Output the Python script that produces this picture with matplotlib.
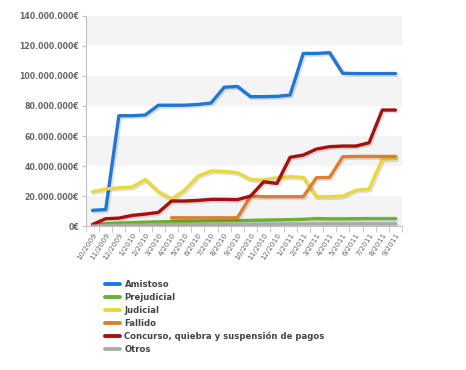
import numpy as np
import matplotlib
matplotlib.use("Agg")
import matplotlib.pyplot as plt
import matplotlib.patheffects as pe

plt.rcParams['font.family'] = ['DejaVu Sans']

months = ["10/2009", "11/2009", "12/2009", "1/2010", "2/2010", "3/2010", "4/2010", "5/2010",
          "6/2010", "7/2010", "8/2010", "9/2010", "10/2010", "11/2010", "12/2010", "1/2011",
          "2/2011", "3/2011", "4/2011", "5/2011", "6/2011", "7/2011", "8/2011", "9/2011"]

# values in millions of euros
amistoso = [10.5, 11, 73.5, 73.5, 74, 80.5, 80.5, 80.5, 81, 82, 92.5, 93,
            86.2, 86.2, 86.4, 87.3, 115, 115, 115.5, 101.8, 101.6, 101.6, 101.6, 101.6]
prejudicial = [0.3, 1.5, 2, 2.3, 2.6, 2.8, 3, 3.2, 3.3, 3.4, 3.5, 3.6,
               3.8, 4, 4.1, 4.3, 4.5, 5, 4.8, 4.8, 4.9, 5, 5, 5]
judicial = [22.9, 24.7, 25.5, 26, 31, 22.9, 18, 24, 33.3, 36.7, 36.5, 35.5,
            31, 30.7, 32.2, 32.9, 32.4, 19.6, 19.6, 20, 23.8, 24.7, 44.7, 45]
fallido = [None, None, None, None, None, None, 5.5, 5.5, 5.5, 5.5, 5.5, 5.5,
           20, 19.6, 19.6, 19.6, 19.6, 32.2, 32.4, 46.2, 46.4, 46.4, 46.4, 46.4]
concurso = [1.1, 4.9, 5.3, 7.1, 8, 9.1, 16.7, 16.7, 17.1, 17.8, 17.8, 17.6,
            20, 29.5, 28.4, 45.8, 47.3, 51.3, 52.9, 53.3, 53.3, 55.5, 77.3, 77.3]
otros = [0, 0.2, 0.4, 0.6, 0.7, 0.8, 0.9, 1, 1, 1.1, 1.1, 1.2,
         1.2, 1.3, 1.3, 1.4, 1.4, 1.5, 1.5, 1.5, 1.5, 1.5, 1.5, 1.5]

series_names = ["Amistoso", "Prejudicial", "Judicial", "Fallido",
                "Concurso, quiebra y suspensión de pagos", "Otros"]
series_values = [amistoso, prejudicial, judicial, fallido, concurso, otros]
colors = ["#1f78d6", "#68b22e", "#ead83a", "#e17d2d", "#a80f0f", "#aaaaaa"]

fig = plt.figure(figsize=(4.66, 3.70), dpi=100)
ax = fig.add_axes([0.1845, 0.389, 0.6782, 0.568])

x = np.arange(len(months))
shadow = [pe.SimpleLineShadow(offset=(0.8, -0.8), shadow_color='black', alpha=0.12, linewidth=3.4),
          pe.Normal()]
handles = []
for name, vals, c in zip(series_names, series_values, colors):
    y = np.array([np.nan if v is None else v for v in vals], dtype=float) * 1e6
    h, = ax.plot(x, y, color=c, lw=2.4, solid_joinstyle='round', solid_capstyle='round',
                 label=name, path_effects=shadow)
    handles.append(h)

ax.set_xlim(-0.5, len(months) - 0.5)
ax.set_ylim(0, 140e6)

# alternating bands
for lo in range(0, 140, 40):
    ax.axhspan(lo * 1e6, (lo + 20) * 1e6, color='#f4f4f4', zorder=0, lw=0)

yt = np.arange(0, 141, 20) * 1e6
ax.set_yticks(yt)
ax.set_yticklabels([("{:,.0f}".format(v).replace(",", ".") + "€") for v in yt],
                   fontsize=5.6, color='#666666', fontweight='bold')
ax.set_xticks(x)
ax.set_xticklabels(months, rotation=57, ha='right', rotation_mode='anchor',
                   fontsize=5.3, color='#666666')
ax.set_xticks(np.arange(-0.5, len(months)), minor=True)
ax.tick_params(axis='x', which='major', length=0, pad=4)
ax.tick_params(axis='x', which='minor', length=4, color='#c0c0c0')
ax.tick_params(axis='y', length=3, color='#c0c0c0', pad=2)

for s in ['top', 'right']:
    ax.spines[s].set_visible(False)
ax.spines['left'].set_color('#c0c0c0')
ax.spines['bottom'].set_color('#c0c0c0')

leg = fig.legend(handles=handles, loc='upper left', bbox_to_anchor=(0.218, 0.252),
                 frameon=False, fontsize=6.1, handlelength=1.8, handletextpad=0.5,
                 labelspacing=0.45, borderaxespad=0)
for t in leg.get_texts():
    t.set_color('#444444')
    t.set_fontweight('bold')
for l in leg.get_lines():
    l.set_linewidth(2.8)
    l.set_path_effects([])

fig.savefig("out.png", dpi=100)
